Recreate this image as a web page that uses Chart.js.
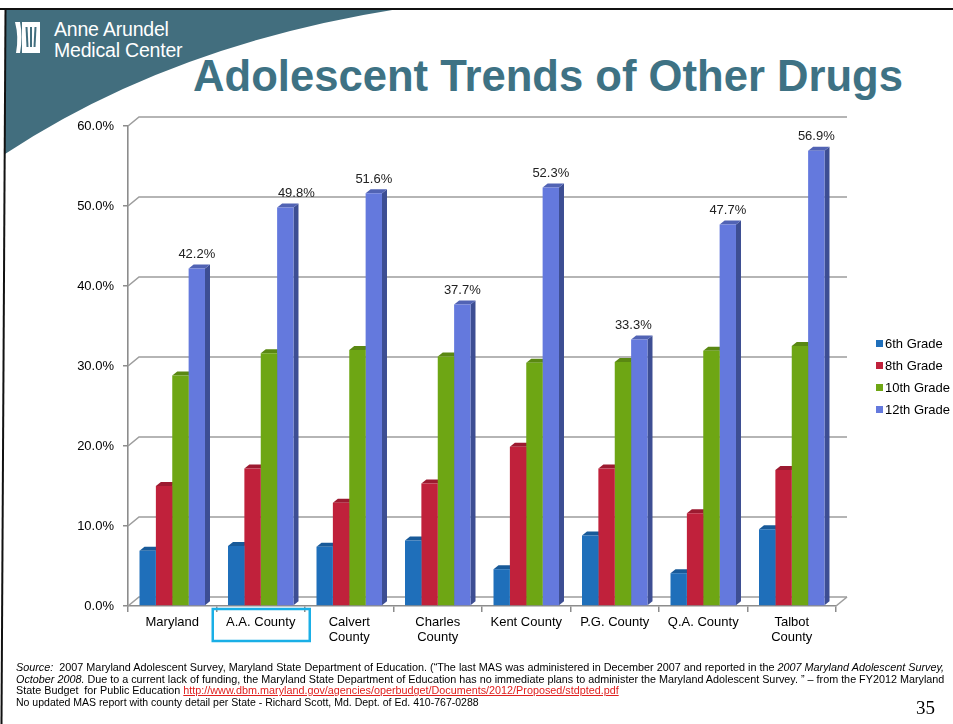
<!DOCTYPE html>
<html>
<head>
<meta charset="utf-8">
<title>Adolescent Trends of Other Drugs</title>
<script src="https://cdn.jsdelivr.net/npm/chart.js@4/dist/chart.umd.min.js"></script>
<style>
  html, body { margin: 0; padding: 0; background: #fff; }
  #slide { position: relative; width: 953px; height: 724px; overflow: hidden; background: #fff; font-family: "Liberation Sans", Arial, sans-serif; }
  #deco { position: absolute; left: 0; top: 0; }
  #chart { position: absolute; left: 0; top: 0; }
  #brand { position: absolute; left: 54px; top: 19px; color: #fff; font-size: 19.5px; line-height: 21px; letter-spacing: -0.2px; }
  #title { position: absolute; left: 193px; top: 51px; color: #3e7284; font-family: "Liberation Sans", Arial, sans-serif; font-weight: bold; font-size: 43.5px; line-height: 50px; white-space: nowrap; }
  .foot { position: absolute; left: 16px; font-size: 10px; line-height: 12px; color: #000; white-space: nowrap; transform-origin: 0 0; }
  .foot a { color: #e0201f; text-decoration: underline; }
  #page { position: absolute; left: 916px; top: 697px; font-family: "Liberation Serif", "Times New Roman", serif; font-size: 19px; color: #000; }
</style>
</head>
<body>
<div id="slide">
  <svg id="deco" width="953" height="724" viewBox="0 0 953 724">
    <path d="M5,9 H398 Q170,45 5,154 Z" fill="#426e7e"/>
    <line x1="0" y1="9" x2="953" y2="9" stroke="#111" stroke-width="2"/>
    <line x1="5.5" y1="9" x2="1.5" y2="724" stroke="#111" stroke-width="2"/>
    <!-- logo mark -->
    <path d="M15,22 Q19,37 16,53 L20,53 Q23,37 20,22 Z" fill="#fff"/>
    <path d="M22,22 L40,22 L40,53 L22,53 Z" fill="#fff"/>
    <g stroke="#426e7e" stroke-width="2">
      <line x1="26.5" y1="27" x2="27.5" y2="47"/>
      <line x1="31" y1="27" x2="31" y2="47"/>
      <line x1="35.5" y1="27" x2="34.5" y2="47"/>
    </g>
  </svg>
  <div id="brand">Anne Arundel<br>Medical Center</div>
  <div id="title">Adolescent Trends of Other Drugs</div>
  <canvas id="chart" width="953" height="724"></canvas>
  <div class="foot" id="f1" style="top:662px"><i>Source:</i>&nbsp; 2007 Maryland Adolescent Survey, Maryland State Department of Education. (“The last MAS was administered in December 2007 and reported in the <i>2007 Maryland Adolescent Survey,</i></div>
  <div class="foot" id="f2" style="top:674px"><i>October 2008.</i> Due to a current lack of funding, the Maryland State Department of Education has no immediate plans to administer the Maryland Adolescent Survey. ” – from the FY2012 Maryland</div>
  <div class="foot" id="f3" style="top:685px">State Budget&nbsp; for Public Education <a>http://www.dbm.maryland.gov/agencies/operbudget/Documents/2012/Proposed/stdpted.pdf</a></div>
  <div class="foot" id="f4" style="top:697px">No updated MAS report with county detail per State - Richard Scott, Md. Dept. of Ed. 410-767-0288</div>
  <div id="page">35</div>
</div>
<script>
// Categories and series (percent of students)
const categories = ['Maryland', 'A.A. County', ['Calvert', 'County'], ['Charles', 'County'], 'Kent County', 'P.G. County', 'Q.A. County', ['Talbot', 'County']];
const seriesNames = ['6th Grade', '8th Grade', '10th Grade', '12th Grade'];
const grade6  = [6.9, 7.5, 7.4, 8.2, 4.6, 8.8, 4.1, 9.6];
const grade8  = [15.0, 17.2, 12.9, 15.3, 19.9, 17.2, 11.6, 17.0];
const grade10 = [28.8, 31.6, 32.0, 31.2, 30.4, 30.5, 31.9, 32.5];
const grade12 = [42.2, 49.8, 51.6, 37.7, 52.3, 33.3, 47.7, 56.9];
const yTicks  = [0, 10, 20, 30, 40, 50, 60];

// Scale each footnote line to its printed width
function fitLine(id, w) {
  const el = document.getElementById(id);
  const s = w / el.scrollWidth;
  el.style.transform = 'scaleX(' + s + ')';
}
fitLine('f1', 928); fitLine('f2', 928); fitLine('f3', 603); fitLine('f4', 463);

// Size the heading to its band
(function () {
  const t = document.getElementById('title');
  const w = t.scrollWidth;
  const fs = 43.5 * 710 / w;
  t.style.fontSize = fs.toFixed(2) + 'px';
})();

const front = ['#1f6fba', '#c0213b', '#6ea614', '#6479dd'];
const side  = ['#164f88', '#8a1729', '#4d7510', '#3d4e93'];
const cap   = ['#185a99', '#9c1a30', '#5a8812', '#5163b4'];
const DX = 11, DY = 9;      // back-wall offset
const SX = 5, SY = 4;       // bar depth
const labelNudge = { 1: 11, 5: -6 };   // hand-placed value labels (px)

const depthPlugin = {
  id: 'depth',
  beforeDatasetsDraw(chart) {
    const ctx = chart.ctx;
    const { left, right, bottom } = chart.chartArea;
    const ys = chart.scales.y;
    ctx.save();
    // back wall grid lines
    ctx.strokeStyle = '#9d9d9d';
    ctx.lineWidth = 1.6;
    yTicks.forEach(v => {
      const y = ys.getPixelForValue(v);
      ctx.beginPath();
      ctx.moveTo(left, y);
      ctx.lineTo(left + DX, y - DY);
      ctx.lineTo(right + DX, y - DY);
      ctx.stroke();
    });
    ctx.beginPath();
    ctx.moveTo(right, bottom);
    ctx.lineTo(right + DX, bottom - DY);
    ctx.stroke();
    // bar sides and tops
    const n = chart.data.labels.length;
    for (let i = 0; i < n; i++) {
      chart.data.datasets.forEach((ds, d) => {
        const el = chart.getDatasetMeta(d).data[i];
        const { x, y, base, width } = el.getProps(['x', 'y', 'base', 'width'], true);
        const l = x - width / 2, r = x + width / 2;
        ctx.fillStyle = side[d];
        ctx.beginPath();
        ctx.moveTo(r, y); ctx.lineTo(r + SX, y - SY); ctx.lineTo(r + SX, base - SY); ctx.lineTo(r, base);
        ctx.closePath(); ctx.fill();
        ctx.fillStyle = cap[d];
        ctx.beginPath();
        ctx.moveTo(l, y); ctx.lineTo(l + SX, y - SY); ctx.lineTo(r + SX, y - SY); ctx.lineTo(r, y);
        ctx.closePath(); ctx.fill();
      });
    }
    ctx.restore();
  },
  afterDatasetsDraw(chart) {
    const ctx = chart.ctx;
    const meta = chart.getDatasetMeta(3);
    ctx.save();
    ctx.font = '13px "Liberation Sans", Arial, sans-serif';
    ctx.fillStyle = '#222';
    ctx.textAlign = 'center';
    ctx.textBaseline = 'middle';
    meta.data.forEach((el, i) => {
      const v = chart.data.datasets[3].data[i];
      ctx.fillText(v.toFixed(1) + '%', el.x + (labelNudge[i] || 0), el.y - 14);
    });
    ctx.restore();
  },
  afterDraw(chart) {
    const ctx = chart.ctx;
    const xs = chart.scales.x;
    const { bottom } = chart.chartArea;
    ctx.save();
    // highlight box around the county label
    const cx = xs.getPixelForValue(1);
    ctx.strokeStyle = '#1aafe6';
    ctx.lineWidth = 2.5;
    ctx.strokeRect(cx - 48, bottom + 3, 97, 32);
    // legend
    ctx.font = '13px "Liberation Sans", Arial, sans-serif';
    ctx.textBaseline = 'middle';
    ctx.textAlign = 'left';
    chart.data.datasets.forEach((ds, d) => {
      const y = 344 + d * 22;
      ctx.fillStyle = ds.backgroundColor;
      ctx.fillRect(876, y - 4, 7, 7);
      ctx.fillStyle = '#000';
      ctx.fillText(ds.label, 885, y);
    });
    ctx.restore();
  }
};

new Chart(document.getElementById('chart'), {
  type: 'bar',
  data: {
    labels: categories,
    datasets: [grade6, grade8, grade10, grade12].map((vals, d) => ({
      label: seriesNames[d],
      data: vals,
      backgroundColor: front[d],
      borderWidth: 0,
      categoryPercentage: 0.74,
      barPercentage: 1.0
    }))
  },
  options: {
    responsive: false,
    devicePixelRatio: 1,
    animation: false,
    layout: { padding: { left: 68, right: 117, top: 126, bottom: 78 } },
    plugins: { legend: { display: false }, tooltip: { enabled: false } },
    scales: {
      x: {
        afterFit(s) { s.height = 40; },
        grid: { drawOnChartArea: false, drawTicks: true, tickLength: 6, color: '#8c8c8c', lineWidth: 1.5 },
        border: { display: true, color: '#8c8c8c', width: 1.6 },
        ticks: { color: '#000', padding: 3, maxRotation: 0, autoSkip: false, font: { family: '"Liberation Sans", Arial, sans-serif', size: 13, lineHeight: 1.15 } }
      },
      y: {
        min: 0, max: 60,
        afterFit(s) { s.width = 60; },
        afterBuildTicks(s) { s.ticks = yTicks.map(v => ({ value: v })); },
        grid: { drawOnChartArea: false, drawTicks: true, tickLength: 5, color: '#8c8c8c', lineWidth: 1.5 },
        border: { display: true, color: '#8c8c8c', width: 1.6 },
        ticks: { color: '#000', padding: 9, font: { family: '"Liberation Sans", Arial, sans-serif', size: 13 }, callback: v => v.toFixed(1) + '%' }
      }
    }
  },
  plugins: [depthPlugin]
});
</script>
</body>
</html>
